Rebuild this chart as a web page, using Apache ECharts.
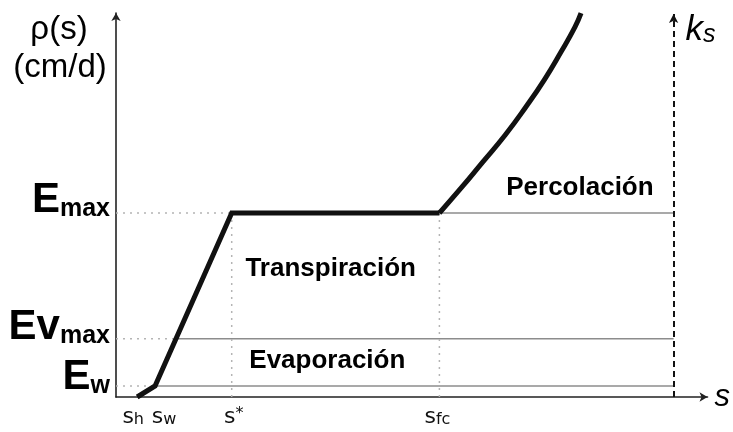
<!DOCTYPE html>
<html>
<head>
<meta charset="utf-8">
<script src="https://cdn.jsdelivr.net/npm/echarts@6/dist/echarts.min.js"></script>
<style>
  html, body { margin: 0; background: #fff; }
  #chart { width: 733px; height: 432px; }
</style>
</head>
<body>
<div id="chart"></div>
<script>
// marks on the s axis: s_h, s_w, s*, s_fc
const sMarks = [0.038, 0.07, 0.2075, 0.58];
const sLabels = ['s_h', 's_w', 's*', 's_fc'];
// levels on the rho axis (cm/d): E_w, Ev_max, E_max
const rhoLevels = [0.03, 0.158, 0.5];
const rhoLabels = ['E_w', 'Ev_max', 'E_max'];
// loss function, linear part
const rampS = [0.038, 0.07, 0.2075, 0.58];
const rampRho = [0, 0.03, 0.5, 0.5];
// loss function, percolation branch
const percS = [0.58, 0.619, 0.658, 0.698, 0.735, 0.769, 0.798, 0.823, 0.834];
const percRho = [0.5, 0.568, 0.639, 0.712, 0.788, 0.864, 0.9375, 1.005, 1.043];
// saturated conductivity line
const ksS = 1;
const ksTop = 1.041;
// region names and where they sit
const regionNames = ['Transpiración', 'Evaporación', 'Percolación'];
const regionS = [0.385, 0.379, 0.832];
const regionRho = [0.348, 0.098, 0.568];

const FONT = '"Liberation Sans", Arial, sans-serif';
const INK = '#111';

// s where the ramp reaches a given rho
function rampAt(rho) {
  for (let i = 1; i < rampRho.length; i++) {
    if (rho <= rampRho[i]) {
      const t = (rho - rampRho[i - 1]) / (rampRho[i] - rampRho[i - 1]);
      return rampS[i - 1] + t * (rampS[i] - rampS[i - 1]);
    }
  }
  return rampS[rampS.length - 1];
}

function seg(points, lineStyle, z) {
  return {
    type: 'line',
    data: points,
    symbol: 'none',
    silent: true,
    z: z || 2,
    lineStyle: lineStyle,
  };
}

function labels(extra) {
  return Object.assign({
    type: 'scatter',
    symbolSize: 0,
    silent: true,
    z: 6,
    itemStyle: { opacity: 1 },
  }, extra);
}

const guide = { color: '#b4b4b4', width: 1.5, type: [2, 5] };
const level = { color: '#8c8c8c', width: 1.5 };

const series = [];
// dotted guides from the rho axis to the curve, grey levels beyond it
rhoLevels.forEach((r) => {
  series.push(seg([[0, r], [rampAt(r), r]], guide, 1));
  series.push(seg([[rampAt(r), r], [ksS, r]], level, 1));
});
// vertical dotted guides at s* and s_fc
[sMarks[2], sMarks[3]].forEach((s) => {
  series.push(seg([[s, 0], [s, rhoLevels[2]]], guide, 1));
});
// the loss curve
series.push(seg(rampS.map((s, i) => [s, rampRho[i]]), { color: INK, width: 5, join: 'miter' }, 5));
series.push(Object.assign(
  seg(percS.map((s, i) => [s, percRho[i]]), { color: INK, width: 5 }, 5),
  { smooth: 0.5 }
));
// k_s dashed arrow
series.push({
  type: 'line',
  data: [],
  silent: true,
  markLine: {
    silent: true,
    symbol: ['none', 'arrow'],
    symbolSize: [7, 9],
    label: { show: false },
    lineStyle: { color: INK, width: 2, type: [6, 4] },
    data: [[{ coord: [ksS, 0] }, { coord: [ksS, ksTop] }]],
  },
});

// s tick labels
const sOffsets = [-4, 9, 2, -2];
series.push(labels({
  data: sMarks.map((s, i) => ({
    value: [s, 0],
    label: { offset: [sOffsets[i], 0] },
  })),
  label: {
    show: true,
    position: 'bottom',
    distance: 9,
    formatter: (p) => {
      const t = sLabels[p.dataIndex];
      if (t.endsWith('*')) return '{s|s}{sup|*}';
      return '{s|s}{sub|' + t.split('_')[1] + '}';
    },
    rich: {
      s: { fontFamily: 'DejaVu Sans', fontSize: 22, lineHeight: 22, verticalAlign: 'bottom', color: INK },
      sub: { fontFamily: 'DejaVu Sans', fontSize: 16, lineHeight: 12, verticalAlign: 'bottom', color: INK },
      sup: { fontFamily: 'DejaVu Sans', fontSize: 16, lineHeight: 5, verticalAlign: 'top', color: INK },
    },
  },
}));

// rho level labels
const rhoOffsets = [-8.5, -11.5, -12.5];
series.push(labels({
  data: rhoLevels.map((r, i) => ({
    value: [0, r],
    label: { offset: [0, rhoOffsets[i]] },
  })),
  label: {
    show: true,
    position: 'left',
    distance: 6,
    formatter: (p) => {
      const parts = rhoLabels[p.dataIndex].split('_');
      return '{big|' + parts[0] + '}{sub|' + parts[1] + '}';
    },
    rich: {
      big: { fontFamily: FONT, fontWeight: 'bold', fontSize: 42, lineHeight: 42, verticalAlign: 'bottom', color: '#000' },
      sub: { fontFamily: FONT, fontWeight: 'bold', fontSize: 25, lineHeight: 30, verticalAlign: 'bottom', color: '#000' },
    },
  },
}));

// region names
series.push(labels({
  data: regionNames.map((n, i) => ({ value: [regionS[i], regionRho[i]], name: n })),
  label: {
    show: true,
    position: 'inside',
    formatter: '{b}',
    fontFamily: FONT,
    fontWeight: 'bold',
    fontSize: 26,
    color: '#000',
  },
}));

// k_s label
series.push(labels({
  data: [[ksS, ksTop]],
  label: {
    show: true,
    position: 'right',
    distance: 12,
    offset: [0, 17],
    formatter: '{k|k}{s|s}',
    rich: {
      k: { fontFamily: FONT, fontStyle: 'italic', fontSize: 35, lineHeight: 34, verticalAlign: 'bottom', color: '#000' },
      s: { fontFamily: FONT, fontStyle: 'italic', fontSize: 25, lineHeight: 22, verticalAlign: 'bottom', color: '#000' },
    },
  },
}));

const chart = echarts.init(document.getElementById('chart'));
chart.setOption({
  animation: false,
  grid: { left: 116, right: 24, top: 13, bottom: 35 },
  xAxis: {
    type: 'value',
    min: 0,
    max: 1.0608,
    name: 's',
    nameLocation: 'end',
    nameGap: 7,
    nameTextStyle: { fontFamily: FONT, fontStyle: 'italic', fontSize: 31, color: '#000' },
    axisLine: { lineStyle: { color: '#222', width: 1.6 }, symbol: ['none', 'arrow'], symbolSize: [7, 8] },
    axisTick: { show: false },
    axisLabel: { show: false },
    splitLine: { show: false },
  },
  yAxis: {
    type: 'value',
    min: 0,
    max: 1.0435,
    axisLine: { show: true, lineStyle: { color: '#222', width: 1.6 }, symbol: ['none', 'arrow'], symbolSize: [7, 8] },
    axisTick: { show: false },
    axisLabel: { show: false },
    splitLine: { show: false },
  },
  graphic: [
    { type: 'text', x: 59, y: 29.5, style: { text: 'ρ(s)', font: '33px ' + FONT, fill: '#000', align: 'center', verticalAlign: 'middle' } },
    { type: 'text', x: 60, y: 68, style: { text: '(cm/d)', font: '33px ' + FONT, fill: '#000', align: 'center', verticalAlign: 'middle' } },
  ],
  series: series,
});
</script>
</body>
</html>
